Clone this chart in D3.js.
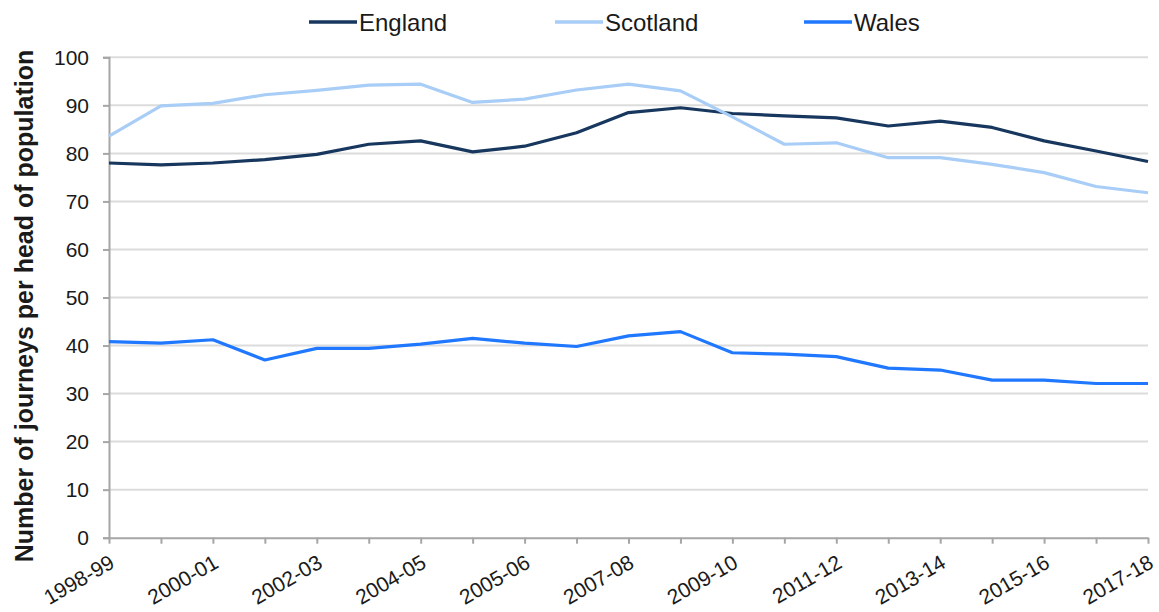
<!DOCTYPE html>
<html>
<head>
<meta charset="utf-8">
<script src="https://cdn.jsdelivr.net/npm/d3@7"></script>
<style>
  body { margin: 0; background: #fff; }
  text { font-family: "Liberation Sans", Arial, sans-serif; fill: #1a1a1a; }
</style>
</head>
<body>
<svg id="chart" width="1159" height="612"></svg>
<script>
// categories (financial years); index 7 is an unlabelled break in the series
var years = ["1998-99", "1999-00", "2000-01", "2001-02", "2002-03", "2003-04", "2004-05",
  "2005-06 (old)", "2005-06", "2006-07", "2007-08", "2008-09", "2009-10", "2010-11",
  "2011-12", "2012-13", "2013-14", "2014-15", "2015-16", "2016-17", "2017-18"];

var england = [78.0, 77.6, 78.0, 78.7, 79.8, 81.9, 82.6, 80.3, 81.5, 84.3,
  88.5, 89.5, 88.3, 87.8, 87.4, 85.7, 86.7, 85.4, 82.6, 80.5, 78.3];
var scotland = [83.6, 89.9, 90.4, 92.2, 93.1, 94.2, 94.4, 90.6, 91.3, 93.2,
  94.4, 93.0, 87.6, 81.9, 82.2, 79.1, 79.1, 77.7, 76.0, 73.1, 71.8];
var wales = [40.8, 40.5, 41.2, 37.0, 39.4, 39.4, 40.3, 41.5, 40.5, 39.8,
  42.0, 42.9, 38.5, 38.2, 37.7, 35.3, 34.9, 32.8, 32.8, 32.1, 32.1];

var yTicks = [0, 10, 20, 30, 40, 50, 60, 70, 80, 90, 100];

var series = [
  {name: "England", values: england, color: "#17375e"},
  {name: "Scotland", values: scotland, color: "#a8cdf6"},
  {name: "Wales", values: wales, color: "#1f78ff"}
];

var svg = d3.select("#chart");

var plotLeft = 109, plotRight = 1148, plotTop = 57.3, plotBottom = 537.7;

var x = d3.scalePoint().domain(years).range([plotLeft, plotRight]);
var y = d3.scaleLinear().domain([0, 100]).range([plotBottom, plotTop]);

// gridlines
svg.append("g")
  .selectAll("line")
  .data(yTicks.slice(1))
  .enter()
  .append("line")
  .attr("x1", plotLeft)
  .attr("x2", plotRight)
  .attr("y1", function(d) { return y(d); })
  .attr("y2", function(d) { return y(d); })
  .attr("stroke", "#dcdcdc")
  .attr("stroke-width", 2);

// y axis
var yAxis = svg.append("g")
  .attr("transform", "translate(" + plotLeft + ",0)")
  .call(d3.axisLeft(y).tickValues(yTicks).tickSize(6).tickPadding(14));
yAxis.select(".domain").attr("stroke", "#a6a6a6").attr("stroke-width", 2);
yAxis.selectAll(".tick line").attr("stroke", "#a6a6a6").attr("stroke-width", 2);
yAxis.selectAll(".tick text")
  .attr("font-size", 21)
  .attr("fill", "#1a1a1a")
  .style("font-family", "'Liberation Sans', Arial, sans-serif");

// x axis
var xAxis = svg.append("g")
  .attr("transform", "translate(0," + plotBottom + ")")
  .call(d3.axisBottom(x).tickSize(6).tickSizeOuter(0));
xAxis.select(".domain").attr("stroke", "#a6a6a6").attr("stroke-width", 2);
xAxis.selectAll(".tick line").attr("stroke", "#a6a6a6").attr("stroke-width", 2);
xAxis.selectAll(".tick text")
  .text(function(d, i) { return i % 2 === 0 ? d : ""; })
  .attr("font-size", 21)
  .attr("fill", "#1a1a1a")
  .style("font-family", "'Liberation Sans', Arial, sans-serif")
  .attr("text-anchor", "end")
  .attr("x", -1)
  .attr("y", 16)
  .attr("dy", "0.71em")
  .attr("transform", "rotate(-30, -1, 16)");

// lines
var line = d3.line()
  .x(function(d, i) { return x(years[i]); })
  .y(function(d) { return y(d); });

svg.append("g")
  .selectAll("path")
  .data(series)
  .enter()
  .append("path")
  .attr("d", function(d) { return line(d.values); })
  .attr("fill", "none")
  .attr("stroke", function(d) { return d.color; })
  .attr("stroke-width", 3.2)
  .attr("stroke-linejoin", "round");

// legend
var legendX = [309, 555, 804];
var legend = svg.append("g")
  .selectAll("g")
  .data(series)
  .enter()
  .append("g")
  .attr("transform", function(d, i) { return "translate(" + legendX[i] + ",22)"; });
legend.append("line")
  .attr("x1", 0).attr("x2", 48)
  .attr("stroke", function(d) { return d.color; })
  .attr("stroke-width", 3.5);
legend.append("text")
  .attr("x", 50)
  .attr("dy", "0.36em")
  .attr("font-size", 24)
  .text(function(d) { return d.name; });

// y axis title
svg.append("text")
  .attr("transform", "translate(24,306) rotate(-90)")
  .attr("text-anchor", "middle")
  .attr("dy", "0.36em")
  .attr("font-size", 25)
  .attr("font-weight", "bold")
  .attr("fill", "#000")
  .text("Number of journeys per head of population");
</script>
</body>
</html>
